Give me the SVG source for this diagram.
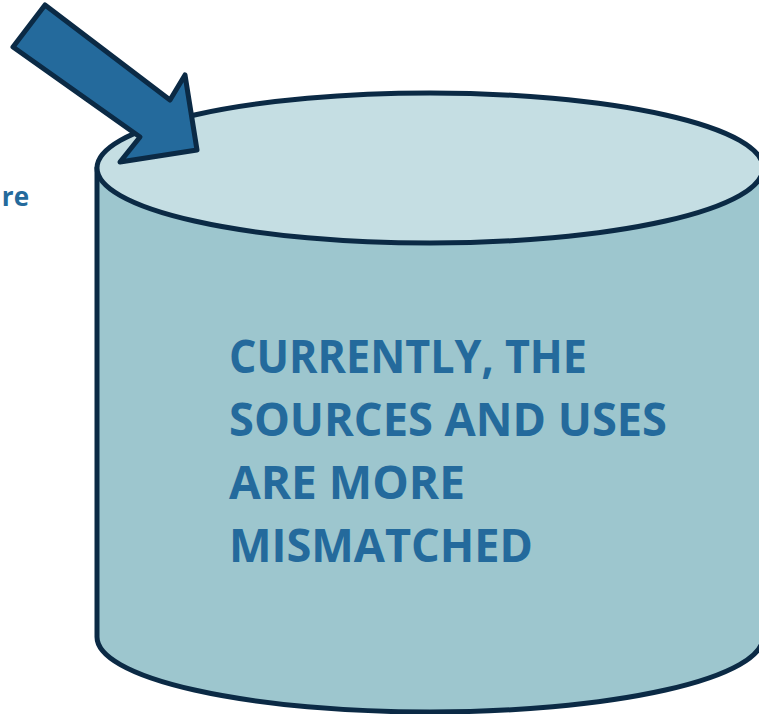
<svg xmlns="http://www.w3.org/2000/svg" width="759" height="714" viewBox="0 0 759 714">
<style>
.out{stroke:#0b2a45;stroke-width:5;stroke-linejoin:round}
.lbl{font-family:"Open Sans","Liberation Sans",sans-serif;font-weight:bold;fill:#246a9c}
</style>
<rect width="759" height="714" fill="#ffffff"/>
<g id="side-label">
<text class="lbl" x="29" y="206" font-size="26" text-anchor="end">re</text>
</g>
<g id="cylinder">
<path class="out" fill="#9dc6ce" d="M97,168 L97,637 A333,75 0 0 0 763,637 L763,168 Z"/>
<ellipse class="out" fill="#c5dee3" cx="430" cy="168" rx="333" ry="75"/>
<text class="lbl" font-size="47">
<tspan x="229" y="373" textLength="358" lengthAdjust="spacingAndGlyphs">CURRENTLY, THE</tspan>
<tspan x="229" y="436" textLength="438" lengthAdjust="spacingAndGlyphs">SOURCES AND USES</tspan>
<tspan x="229" y="499" textLength="236" lengthAdjust="spacingAndGlyphs">ARE MORE</tspan>
<tspan x="229" y="562" textLength="304" lengthAdjust="spacingAndGlyphs">MISMATCHED</tspan>
</text>
</g>
<g id="connectors">
<polygon id="arrow" class="out" fill="#246a9c" points="45,5 170,100 185,75 197,150 120,162 140,137 13,47"/>
</g>
</svg>
